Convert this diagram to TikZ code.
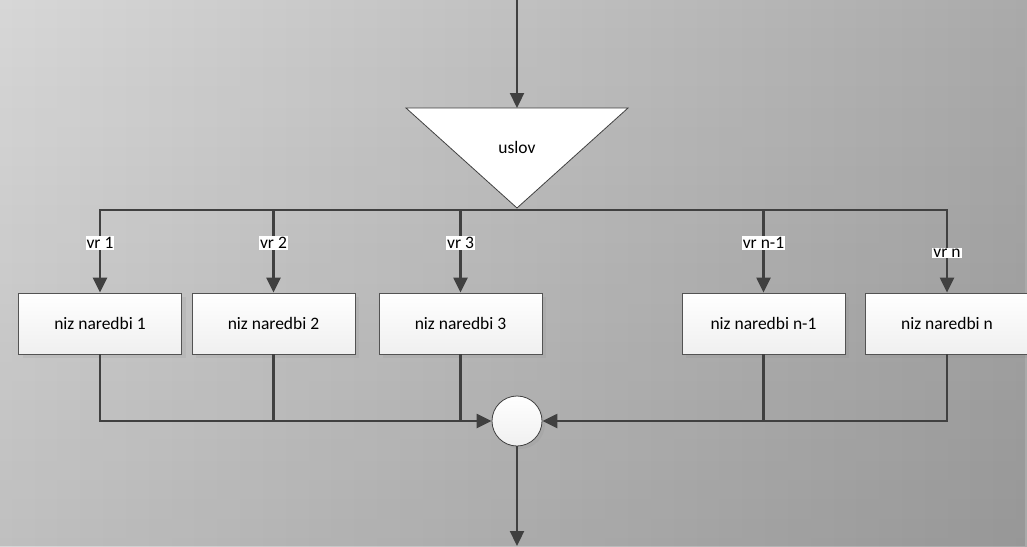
\documentclass[tikz,border=0pt]{standalone}
\usepackage{fontspec}
\setmainfont{Carlito}
\usetikzlibrary{arrows.meta,shadows,fadings}
\definecolor{bgleft}{RGB}{215,215,215}
\definecolor{bgright}{RGB}{170,170,170}
\definecolor{linegray}{RGB}{64,64,64}
\begin{document}
\begin{tikzpicture}[x=1pt, y=-1pt,
    line/.style={draw=linegray, line width=2.3pt},
    arr/.style={line, -{Triangle[length=15pt,width=14pt]}},
    block/.style={draw=linegray!90, line width=0.8pt, top color=white, bottom color=gray!12,
      minimum width=163pt, minimum height=61pt, font=\fontsize{17.5pt}{20pt}\selectfont,
      drop shadow={shadow xshift=4pt, shadow yshift=-4pt, opacity=0.12}},
    lbl/.style={fill=white, inner sep=1pt, font=\fontsize{17.5pt}{20pt}\selectfont},
    normal/.style={font=\fontsize{17.5pt}{20pt}\selectfont}]
  \shade[left color=bgleft, right color=bgright] (0,0) rectangle (1027,546);
  \fill[black, fill opacity=0.11, path fading=north] (0,0) rectangle (1027,546);
  \useasboundingbox (0,0) rectangle (1027,546);
  % condition
  \coordinate (start) at (517,0);
  \coordinate (tritop) at (517,108);
  \coordinate (apex) at (517,208);
  \fill[white] (406,108) -- (628,108) -- (apex) -- cycle;
  \draw[linegray, line width=0.8pt] (406,108) -- (628,108) -- (apex) -- cycle;
  \node[normal] (uslov) at (517,147) {uslov};
  \draw[arr] (start) -- (tritop);
  % branches
  \node[block] (box1) at (100,323.5) {niz naredbi 1};
  \node[block] (box2) at (273.5,323.5) {niz naredbi 2};
  \node[block] (box3) at (460.5,323.5) {niz naredbi 3};
  \node[block] (boxn1) at (763.5,323.5) {niz naredbi n-1};
  \node[block] (boxn) at (947,323.5) {niz naredbi n};
  \coordinate (bus) at (517,210);
  \draw[arr] (bus) -| node[lbl, pos=0.7] {vr 1} (box1.north);
  \draw[arr] (bus) -| node[lbl, pos=0.7] {vr 2} (box2.north);
  \draw[arr] (bus) -| node[lbl, pos=0.7] {vr 3} (box3.north);
  \draw[arr] (bus) -| node[lbl, pos=0.7] {vr n-1} (boxn1.north);
  \draw[arr] (bus) -| node[lbl, pos=0.76] {vr n} (boxn.north);
  % merge
  \node[circle, draw=linegray, line width=0.8pt, top color=white, bottom color=gray!12,
    minimum size=50pt, inner sep=0pt,
    drop shadow={shadow xshift=3pt, shadow yshift=-3pt, opacity=0.12}] (merge) at (517,421) {};
  \draw[arr] (box1.south) |- (merge.west);
  \draw[line] (box2.south) -- (box2.south |- merge.west);
  \draw[line] (box3.south) -- (box3.south |- merge.west);
  \draw[arr] (boxn.south) |- (merge.east);
  \draw[line] (boxn1.south) -- (boxn1.south |- merge.east);
  \coordinate (end) at (517,546);
  \draw[arr] (merge.south) -- (end);
\end{tikzpicture}
\end{document}
